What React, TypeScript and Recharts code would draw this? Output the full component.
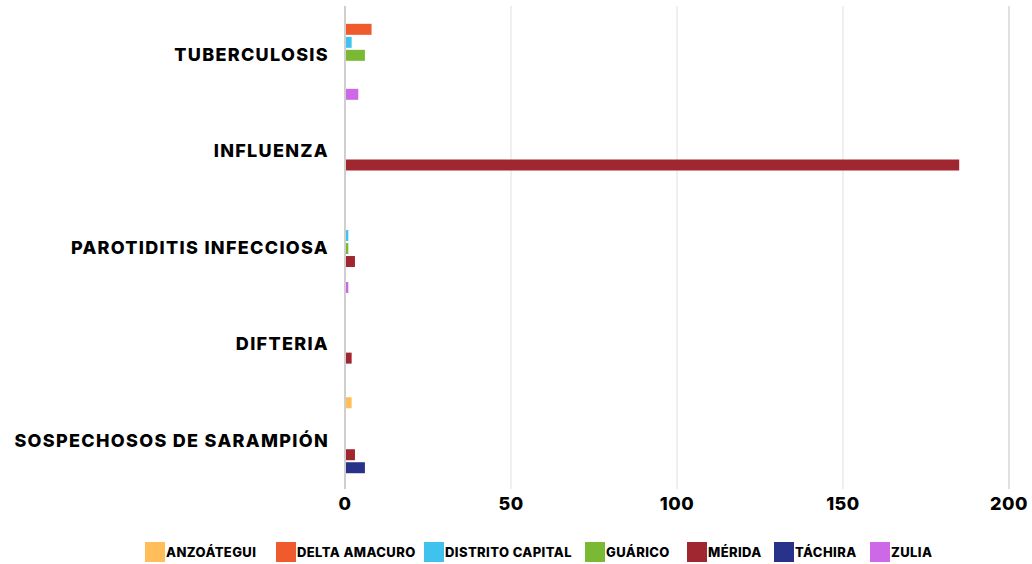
import { Bar, BarChart, CartesianGrid, Legend, ReferenceLine, XAxis, YAxis } from 'recharts';

const categories = [
  'TUBERCULOSIS',
  'INFLUENZA',
  'PAROTIDITIS INFECCIOSA',
  'DIFTERIA',
  'SOSPECHOSOS DE SARAMPIÓN',
];

const anzoategui = [0, 0, 0, 0, 2];
const deltaAmacuro = [8, 0, 0, 0, 0];
const distritoCapital = [2, 0, 1, 0, 0];
const guarico = [6, 0, 1, 0, 0];
const merida = [0, 185, 3, 2, 3];
const tachira = [0, 0, 0, 0, 6];
const zulia = [4, 0, 1, 0, 0];

const xTicks = [0, 50, 100, 150, 200];

const series = [
  { key: 'anzoategui', name: 'ANZOÁTEGUI', color: '#FFBE5A', values: anzoategui },
  { key: 'deltaAmacuro', name: 'DELTA AMACURO', color: '#EF5B2C', values: deltaAmacuro },
  { key: 'distritoCapital', name: 'DISTRITO CAPITAL', color: '#40C2EE', values: distritoCapital },
  { key: 'guarico', name: 'GUÁRICO', color: '#7AB934', values: guarico },
  { key: 'merida', name: 'MÉRIDA', color: '#A0262F', values: merida },
  { key: 'tachira', name: 'TÁCHIRA', color: '#283289', values: tachira },
  { key: 'zulia', name: 'ZULIA', color: '#CD68E6', values: zulia },
];

const data = categories.map((name, i) => {
  const row: Record<string, string | number> = { name };
  series.forEach((s) => {
    row[s.key] = s.values[i];
  });
  return row;
});

const FONT = 'Inter, "Open Sans", sans-serif';

// legend swatches are spaced unevenly in the original
const legendLeft = [145, 276, 424, 585, 687, 774, 870];

function LegendContent() {
  return (
    <div
      style={{
        position: 'relative',
        height: 20,
        fontFamily: FONT,
        fontWeight: 800,
        fontSize: 13,
        letterSpacing: 0.4,
        color: '#000',
      }}
    >
      {series.map((s, i) => (
        <div
          key={s.key}
          style={{ position: 'absolute', left: legendLeft[i], top: 0, display: 'flex', alignItems: 'center', whiteSpace: 'nowrap' }}
        >
          <span style={{ width: 20, height: 20, background: s.color, display: 'inline-block', marginRight: 1 }} />
          <span>{s.name}</span>
        </div>
      ))}
    </div>
  );
}

export default function App() {
  return (
    <div
      style={{
        position: 'fixed',
        left: 0,
        top: 0,
        width: 1032,
        height: 564,
        overflow: 'hidden',
        background: '#fff',
      }}
    >
      <BarChart
        width={1032}
        height={564}
        data={data}
        layout="vertical"
        margin={{ top: 6, right: 23, bottom: 0, left: 0 }}
        barCategoryGap="5%"
        barGap={2}
      >
        <CartesianGrid horizontal={false} stroke="#e0e0e0" />
        <XAxis
          type="number"
          domain={[0, 200]}
          ticks={xTicks}
          axisLine={false}
          tickLine={false}
          height={35}
          tick={{ fill: '#000', fontSize: 18, fontWeight: 800, fontFamily: FONT, letterSpacing: 0.5 }}
        />
        <YAxis
          type="category"
          dataKey="name"
          width={345}
          axisLine={{ stroke: '#cfcfcf', strokeWidth: 2 }}
          tickLine={false}
          tickMargin={10}
          tick={{ fill: '#000', fontSize: 18, fontWeight: 800, fontFamily: FONT, letterSpacing: 1.3 }}
        />
        <ReferenceLine x={200} stroke="#dcdcdc" strokeWidth={1.5} ifOverflow="visible" />
        <Legend
          verticalAlign="bottom"
          height={40}
          content={<LegendContent />}
          wrapperStyle={{ top: 542, left: 0, width: 1032 }}
        />
        {series.map((s) => (
          <Bar key={s.key} dataKey={s.key} name={s.name} fill={s.color} isAnimationActive={false} />
        ))}
      </BarChart>
    </div>
  );
}
